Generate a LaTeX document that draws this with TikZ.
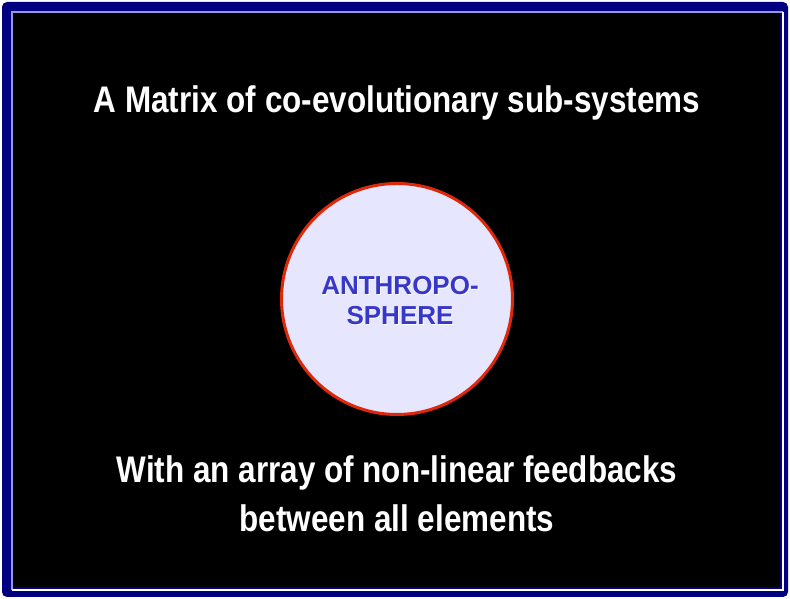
\documentclass[tikz,border=0pt]{standalone}
\usepackage{fontspec}
\setmainfont{Liberation Sans}
\newfontfamily\narrowbf[FakeStretch=0.85]{Liberation Sans Bold}
\usetikzlibrary{positioning, calc}

\definecolor{framenavy}{RGB}{0,0,128}
\definecolor{edgelav}{RGB}{150,150,230}
\definecolor{spherered}{RGB}{221,40,10}
\definecolor{spherefill}{RGB}{230,230,255}
\definecolor{sphereblue}{RGB}{55,55,200}

\begin{document}
\begin{tikzpicture}[
  x=1pt,
  y=1pt,
  headline/.style={
    text=white,
    anchor=base,
    inner sep=0pt,
    font=\narrowbf\fontsize{37}{42}\selectfont
  },
  sphere/.style={
    circle,
    draw=spherered,
    line width=3pt,
    fill=spherefill,
    minimum size=231pt,
    inner sep=0pt
  },
  spheretext/.style={
    align=center,
    inner sep=0pt,
    font=\bfseries\fontsize{26}{30}\selectfont
  }
]

% --- Frame ---
\useasboundingbox (0,0) rectangle (790,599);
\fill[framenavy, rounded corners=5pt] (2,2) rectangle (788,597);
\fill[black] (13,12) rectangle (780,586);
\draw[edgelav, line width=1.2pt] (12,9) -- (12,587) -- (783,587);
\draw[white, line width=1.2pt] (12,9) -- (783,9) -- (783,587);

% --- Title ---
\node[headline] (title) at (397,486) {A Matrix of co-evolutionary sub-systems};

% --- Sphere ---
\node[sphere] (anthro) at (397,300) {};
\node[spheretext, text=white] (anthroshadow) at ($(anthro.center)+(4,-3)$)
  {ANTHROPO-\\SPHERE};
\node[spheretext, text=sphereblue] (anthrolabel) at ($(anthro.center)+(3,-2)$)
  {ANTHROPO-\\SPHERE};

% --- Footer ---
\node[headline] (feedback) at (397,116) {With an array of non-linear feedbacks};
\node[headline] (elements) at (397,67)  {between all elements};

\end{tikzpicture}
\end{document}
